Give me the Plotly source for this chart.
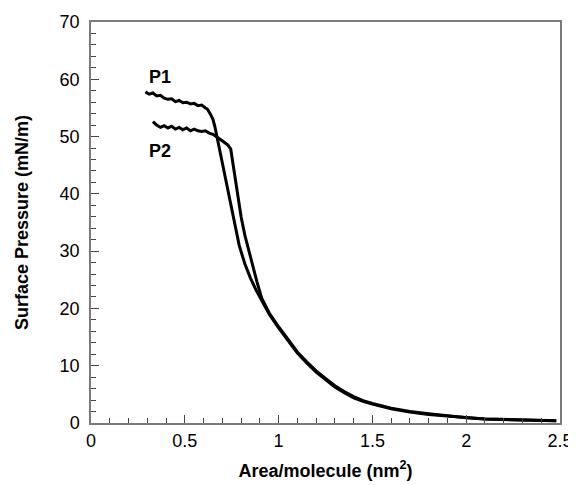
import plotly.graph_objects as go

# P1 isotherm (area per molecule in nm^2, surface pressure in mN/m)
p1_area = [0.29, 0.31, 0.33, 0.35, 0.37, 0.39, 0.41, 0.43, 0.45, 0.47, 0.49, 0.51,
           0.53, 0.55, 0.57, 0.59, 0.61, 0.62, 0.635, 0.65, 0.66, 0.67, 0.69, 0.71,
           0.73, 0.75, 0.77, 0.79, 0.82, 0.85, 0.88, 0.91, 0.95, 1.0, 1.05, 1.1,
           1.15, 1.2, 1.25, 1.3, 1.35, 1.4, 1.45, 1.5, 1.6, 1.7, 1.8, 1.9, 2.0,
           2.1, 2.2, 2.3, 2.4, 2.48]
p1_pressure = [57.8, 57.4, 57.6, 57.1, 57.2, 56.7, 56.5, 56.6, 56.1, 56.3, 55.9, 56.0,
               55.7, 55.8, 55.4, 55.5, 55.0, 54.8, 54.0, 53.0, 51.8, 50.2, 47.0, 43.6,
               40.0, 36.8, 33.8, 31.0, 27.8, 25.3, 23.2, 21.4, 19.0, 16.6, 14.4, 12.2,
               10.5, 8.9, 7.6, 6.3, 5.3, 4.4, 3.8, 3.3, 2.5, 1.9, 1.5, 1.2, 0.9,
               0.7, 0.6, 0.5, 0.4, 0.4]

# P2 isotherm
p2_area = [0.33, 0.35, 0.37, 0.39, 0.41, 0.43, 0.45, 0.47, 0.49, 0.51, 0.53, 0.55,
           0.57, 0.59, 0.61, 0.63, 0.65, 0.67, 0.69, 0.71, 0.73, 0.745, 0.76, 0.78,
           0.80, 0.82, 0.84, 0.86, 0.885, 0.91, 0.95, 1.0, 1.05, 1.1, 1.15, 1.2,
           1.25, 1.3, 1.35, 1.4, 1.45, 1.5, 1.6, 1.7, 1.8, 1.9, 2.0, 2.1, 2.2,
           2.3, 2.4, 2.48]
p2_pressure = [52.6, 52.0, 51.6, 51.9, 51.5, 51.8, 51.3, 51.6, 51.2, 51.5, 51.0, 51.3,
               51.0, 50.9, 51.0, 50.6, 50.4, 50.0, 49.5, 49.0, 48.5, 47.8, 44.5, 40.0,
               36.0, 32.8, 30.2, 27.6, 24.6, 21.8, 19.2, 16.8, 14.6, 12.4, 10.7, 9.1,
               7.8, 6.5, 5.5, 4.6, 3.9, 3.4, 2.6, 2.0, 1.6, 1.2, 0.9, 0.7, 0.6,
               0.5, 0.4, 0.4]

labels = ["P1", "P2"]
label_area = [0.369, 0.369]
label_pressure = [60.4, 47.5]

fig = go.Figure()
for xs, ys, name in [(p1_area, p1_pressure, "P1"), (p2_area, p2_pressure, "P2")]:
    fig.add_trace(go.Scatter(x=xs, y=ys, mode="lines", name=name,
                             line=dict(color="black", width=3)))

for txt, xv, yv in zip(labels, label_area, label_pressure):
    fig.add_annotation(x=xv, y=yv, text="<b>%s</b>" % txt, showarrow=False,
                       font=dict(size=18, color="black"))

axis_style = dict(showline=True, linecolor="#7a7a7a", linewidth=1.5, mirror=True,
                  ticks="inside", ticklen=8, tickwidth=1.3, tickcolor="#444",
                  showgrid=False, zeroline=False, automargin=False,
                  tickfont=dict(size=18, color="black"))

fig.update_xaxes(range=[0, 2.5], tickvals=[0, 0.5, 1, 1.5, 2, 2.5],
                 ticktext=["0", "0.5", "1", "1.5", "2", "2.5"],
                 ticklabelstandoff=1,
                 minor=dict(ticks="inside", ticklen=5, dtick=0.1, tickcolor="#444"),
                 title=dict(text="<b>Area/molecule (nm<sup>2</sup>)</b>",
                            font=dict(size=18, color="black"), standoff=14),
                 **axis_style)
fig.update_yaxes(range=[0, 70], dtick=10, ticklabelstandoff=6,
                 minor=dict(ticks="inside", ticklen=5, dtick=2, tickcolor="#444"),
                 title=dict(text="<b>Surface Pressure (mN/m)</b>",
                            font=dict(size=18, color="black"), standoff=26),
                 **axis_style)

# the page body adds an 8px offset, so the figure is sized to fill the rest
fig.update_layout(width=568, height=477, showlegend=False,
                  plot_bgcolor="white", paper_bgcolor="white",
                  font=dict(family="Liberation Sans, Arial, sans-serif"),
                  margin=dict(l=83, r=16, t=14, b=62))

fig.write_html("out.html")
